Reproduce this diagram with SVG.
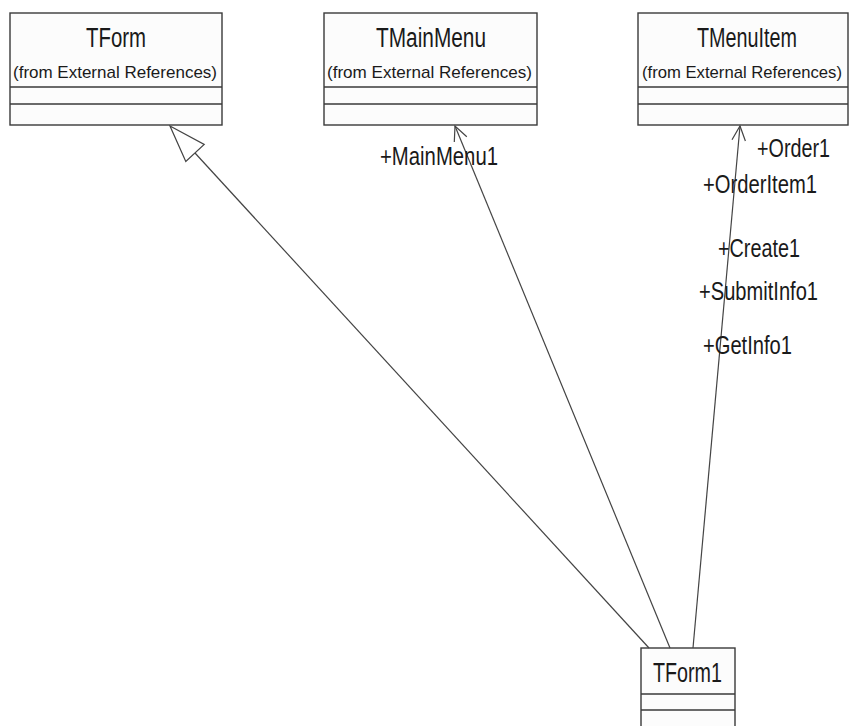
<svg xmlns="http://www.w3.org/2000/svg" width="850" height="726" viewBox="0 0 850 726">
<style>
.box{fill:#fcfcfc;stroke:#3a3a3a;stroke-width:1.4}
.div{stroke:#3a3a3a;stroke-width:1.4}
.t{font-family:"Liberation Sans",Arial,sans-serif;fill:#1a1a1a}
.title{font-size:27px}
.sub{font-size:17px}
.lbl{font-size:25px}
.conn{fill:none;stroke:#444;stroke-width:1.2}
</style>
<rect width="850" height="726" fill="#ffffff"/>
<g id="TForm">
<rect class="box" x="10" y="13" width="212" height="112"/>
<line class="div" x1="10" y1="87" x2="222" y2="87"/>
<line class="div" x1="10" y1="104" x2="222" y2="104"/>
<text class="t title" x="86" y="47" textLength="60" lengthAdjust="spacingAndGlyphs">TForm</text>
<text class="t sub" x="13" y="78" textLength="204" lengthAdjust="spacingAndGlyphs">(from External References)</text>
</g>
<g id="TMainMenu">
<rect class="box" x="324" y="13" width="213" height="112"/>
<line class="div" x1="324" y1="87" x2="537" y2="87"/>
<line class="div" x1="324" y1="104" x2="537" y2="104"/>
<text class="t title" x="376" y="47" textLength="110" lengthAdjust="spacingAndGlyphs">TMainMenu</text>
<text class="t sub" x="327" y="78" textLength="205" lengthAdjust="spacingAndGlyphs">(from External References)</text>
</g>
<g id="TMenuItem">
<rect class="box" x="638" y="13" width="210" height="112"/>
<line class="div" x1="638" y1="87" x2="848" y2="87"/>
<line class="div" x1="638" y1="104" x2="848" y2="104"/>
<text class="t title" x="697" y="47" textLength="100" lengthAdjust="spacingAndGlyphs">TMenuItem</text>
<text class="t sub" x="642" y="78" textLength="200" lengthAdjust="spacingAndGlyphs">(from External References)</text>
</g>
<g id="TForm1">
<rect class="box" x="641" y="648" width="94" height="90"/>
<line class="div" x1="641" y1="694" x2="735" y2="694"/>
<line class="div" x1="641" y1="710" x2="735" y2="710"/>
<text class="t title" x="653" y="682" textLength="69" lengthAdjust="spacingAndGlyphs">TForm1</text>
</g>
<g id="connectors">
<line class="conn" x1="649" y1="648" x2="195" y2="153"/>
<polygon class="conn" points="170,126 204.2,144.5 185.8,161.5" fill="#ffffff"/>
<line class="conn" x1="670" y1="648" x2="455" y2="126"/>
<path class="conn" d="M454.3,142 L455,126 L466.8,136.8"/>
<line class="conn" x1="693" y1="648" x2="740" y2="126"/>
<path class="conn" d="M732,139.8 L740,126 L745.4,141"/>
<text class="t lbl" x="380" y="165" textLength="118" lengthAdjust="spacingAndGlyphs">+MainMenu1</text>
<text class="t lbl" x="757" y="157" textLength="73" lengthAdjust="spacingAndGlyphs">+Order1</text>
<text class="t lbl" x="703" y="193" textLength="114" lengthAdjust="spacingAndGlyphs">+OrderItem1</text>
<text class="t lbl" x="718" y="257" textLength="82" lengthAdjust="spacingAndGlyphs">+Create1</text>
<text class="t lbl" x="699" y="300" textLength="119" lengthAdjust="spacingAndGlyphs">+SubmitInfo1</text>
<text class="t lbl" x="703" y="354" textLength="89" lengthAdjust="spacingAndGlyphs">+GetInfo1</text>
</g>
</svg>
